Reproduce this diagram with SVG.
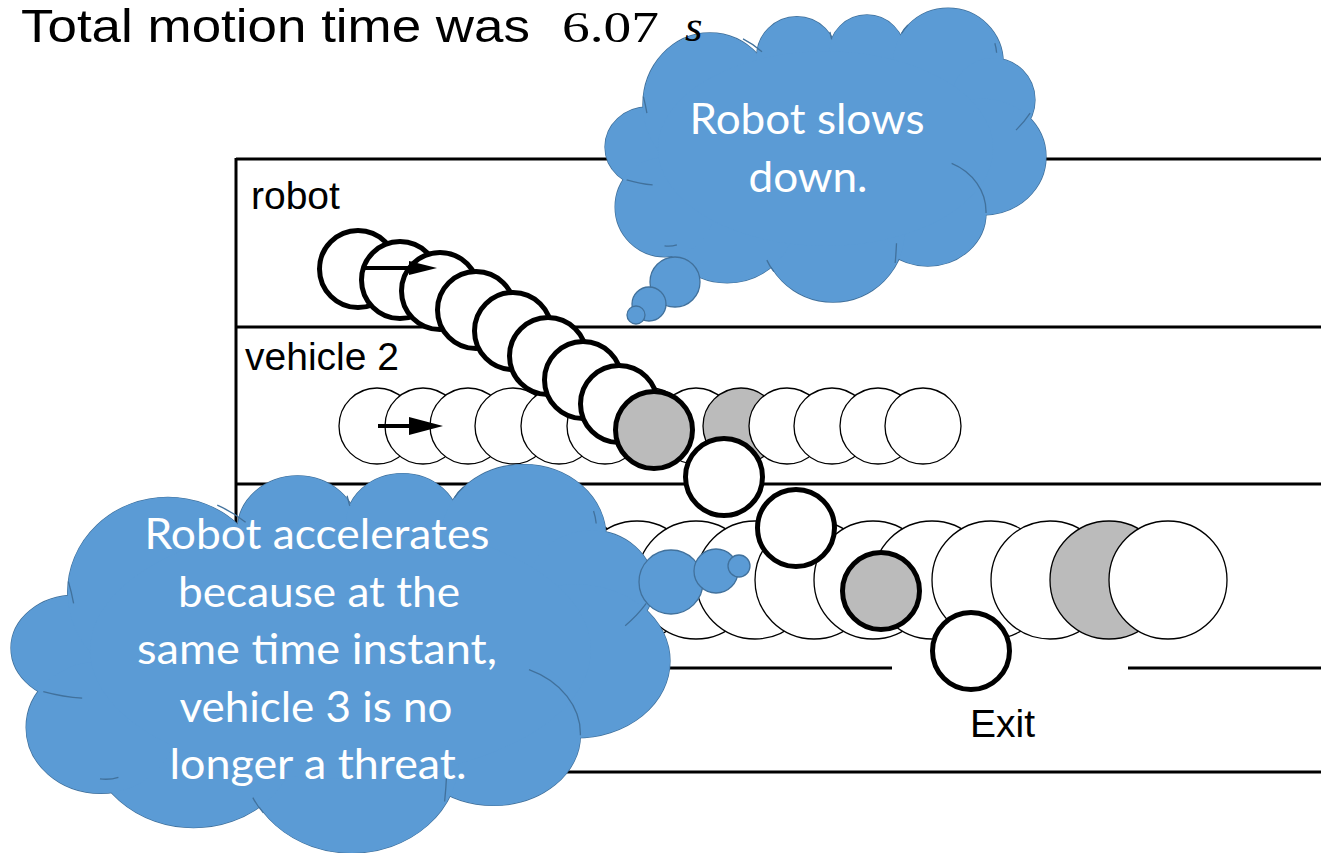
<svg xmlns="http://www.w3.org/2000/svg" xmlns:xlink="http://www.w3.org/1999/xlink" width="1321" height="853" viewBox="0 0 1321 853">
<style>
.frame{stroke:#000;stroke-width:3;fill:none}
.rb{fill:#fff;stroke:#000;stroke-width:5}
.rbg{fill:#bbb;stroke:#000;stroke-width:5}
.vh{fill:#fff;stroke:#000;stroke-width:1.3}
.vhg{fill:#bbb;stroke:#000;stroke-width:1.3}
.lbl{font-family:"Liberation Sans",Arial,sans-serif;font-size:39px;fill:#000}
.ct{font-family:Lato,"Open Sans",sans-serif;font-size:42px;fill:#fff;text-anchor:middle}
.cs ellipse{fill:#5B9BD5;stroke:#41719C;stroke-width:1.3;vector-effect:non-scaling-stroke}
.cf ellipse{fill:#5B9BD5;stroke:none}
.tk{fill:none;stroke:#41719C;stroke-width:1.3;vector-effect:non-scaling-stroke}
.bub{fill:#5B9BD5;stroke:#41719C;stroke-width:1.3}
</style>
<defs>
<g id="cloudShape">
<g class="cs">
<ellipse cx="97.5" cy="474.6" rx="97.5" ry="135.6"/>
<ellipse cx="238" cy="332" rx="152" ry="244"/>
<ellipse cx="435" cy="169" rx="91" ry="136"/>
<ellipse cx="594" cy="156" rx="86" ry="129"/>
<ellipse cx="778" cy="190" rx="125" ry="186"/>
<ellipse cx="880" cy="315" rx="95" ry="142"/>
<ellipse cx="857" cy="508" rx="143" ry="197"/>
<ellipse cx="732" cy="698" rx="132" ry="180"/>
<ellipse cx="517" cy="756" rx="163" ry="244"/>
<ellipse cx="277" cy="698" rx="159" ry="237"/>
<ellipse cx="136" cy="678" rx="113" ry="169"/>
</g>
<g class="cf">
<ellipse cx="97.5" cy="474.6" rx="97.5" ry="135.6"/>
<ellipse cx="238" cy="332" rx="152" ry="244"/>
<ellipse cx="435" cy="169" rx="91" ry="136"/>
<ellipse cx="594" cy="156" rx="86" ry="129"/>
<ellipse cx="778" cy="190" rx="125" ry="186"/>
<ellipse cx="880" cy="315" rx="95" ry="142"/>
<ellipse cx="857" cy="508" rx="143" ry="197"/>
<ellipse cx="732" cy="698" rx="132" ry="180"/>
<ellipse cx="517" cy="756" rx="163" ry="244"/>
<ellipse cx="277" cy="698" rx="159" ry="237"/>
<ellipse cx="136" cy="678" rx="113" ry="169"/>
<ellipse cx="500" cy="480" rx="380" ry="330"/>
</g>
</g>
<path id="cloudTicks" class="tk" d="M87 304Q92 332 95 360M313 108Q337 126 356 152M510 84Q512 97 514 110M673 89Q678 74 687 61M884 123Q887 138 888 155M964 360Q950 392 932 417M786 530A132 180 0 0 1 864 698M661 801Q660 835 658 868M367 858Q373 878 383 897M135 810Q150 813 163 806M49 586Q80 600 108 603"/>
</defs>

<g id="frame" class="frame">
<line x1="236" y1="159" x2="1321" y2="159"/>
<line x1="236" y1="158" x2="236" y2="772"/>
<line x1="236" y1="327" x2="1321" y2="327"/>
<line x1="236" y1="484" x2="1321" y2="484"/>
<line x1="236" y1="668" x2="892" y2="668"/>
<line x1="1128" y1="668" x2="1321" y2="668"/>
<line x1="236" y1="772" x2="1321" y2="772"/>
</g>

<g id="labels">
<text class="lbl" x="251" y="209">robot</text>
<text class="lbl" x="245" y="370">vehicle 2</text>
<text class="lbl" x="970" y="737">Exit</text>
</g>

<g id="vehicle2">
<circle class="vh" cx="377" cy="426" r="38"/>
<circle class="vh" cx="423" cy="426" r="38"/>
<circle class="vh" cx="468" cy="426" r="38"/>
<circle class="vh" cx="513" cy="426" r="38"/>
<circle class="vh" cx="559" cy="426" r="38"/>
<circle class="vh" cx="605" cy="426" r="38"/>
<circle class="vh" cx="650" cy="426" r="38"/>
<circle class="vh" cx="696" cy="426" r="38"/>
<circle class="vhg" cx="741" cy="426" r="38"/>
<circle class="vh" cx="787" cy="426" r="38"/>
<circle class="vh" cx="832" cy="426" r="38"/>
<circle class="vh" cx="878" cy="426" r="38"/>
<circle class="vh" cx="923" cy="426" r="38"/>
<line x1="378" y1="426" x2="414" y2="426" stroke="#000" stroke-width="4"/>
<polygon points="409,417 443,426 409,435" fill="#000"/>
</g>

<g id="vehicle3">
<circle class="vh" cx="342" cy="580" r="59"/>
<circle class="vh" cx="401" cy="580" r="59"/>
<circle class="vh" cx="460" cy="580" r="59"/>
<circle class="vh" cx="519" cy="580" r="59"/>
<circle class="vh" cx="578" cy="580" r="59"/>
<circle class="vh" cx="637" cy="580" r="59"/>
<circle class="vh" cx="696" cy="580" r="59"/>
<circle class="vh" cx="755" cy="580" r="59"/>
<circle class="vh" cx="814" cy="580" r="59"/>
<circle class="vh" cx="873" cy="580" r="59"/>
<circle class="vh" cx="932" cy="580" r="59"/>
<circle class="vh" cx="991" cy="580" r="59"/>
<circle class="vh" cx="1050" cy="580" r="59"/>
<circle class="vhg" cx="1109" cy="580" r="59"/>
<circle class="vh" cx="1168" cy="580" r="59"/>
</g>

<g id="robot">
<circle class="rb" cx="358" cy="269" r="38.5"/>
<circle class="rb" cx="400" cy="280" r="38.5"/>
<circle class="rb" cx="440" cy="291" r="38.5"/>
<circle class="rb" cx="476" cy="310" r="38.5"/>
<circle class="rb" cx="513" cy="331" r="38.5"/>
<circle class="rb" cx="548" cy="356" r="38.5"/>
<circle class="rb" cx="583" cy="380" r="38.5"/>
<circle class="rb" cx="619" cy="404" r="38.5"/>
<circle class="rbg" cx="654" cy="430" r="38.5"/>
<circle class="rb" cx="724" cy="477" r="38.5"/>
<circle class="rb" cx="796" cy="528" r="38.5"/>
<circle class="rbg" cx="881" cy="591" r="38.5"/>
<circle class="rb" cx="971" cy="651" r="38.5"/>
<line x1="362" y1="268" x2="414" y2="268" stroke="#000" stroke-width="4"/>
<polygon points="409,261 437,268 409,275" fill="#000"/>
</g>

<g id="cloud-slows">
<use xlink:href="#cloudShape" transform="translate(605,7) scale(0.441,0.295)"/>
<circle class="bub" cx="675" cy="282" r="25"/>
<circle class="bub" cx="649" cy="304" r="17"/>
<circle class="bub" cx="636" cy="315" r="9"/>
<use xlink:href="#cloudTicks" transform="translate(605,7) scale(0.441,0.295)"/>
<text class="ct" x="807" y="134" textLength="235" lengthAdjust="spacingAndGlyphs">Robot slows</text>
<text class="ct" x="808" y="192" textLength="119" lengthAdjust="spacingAndGlyphs">down.</text>
</g>

<g id="cloud-accelerates">
<use xlink:href="#cloudShape" transform="translate(11,463) scale(0.659,0.39)"/>
<circle class="bub" cx="671" cy="582" r="32"/>
<circle class="bub" cx="716" cy="571" r="22"/>
<circle class="bub" cx="739" cy="566" r="11"/>
<use xlink:href="#cloudTicks" transform="translate(11,463) scale(0.659,0.39)"/>
<text class="ct" x="317" y="549" textLength="345" lengthAdjust="spacingAndGlyphs">Robot accelerates</text>
<text class="ct" x="319" y="607" textLength="282" lengthAdjust="spacingAndGlyphs">because at the</text>
<text class="ct" x="317" y="664" textLength="360" lengthAdjust="spacingAndGlyphs">same time instant,</text>
<text class="ct" x="316" y="722" textLength="273" lengthAdjust="spacingAndGlyphs">vehicle 3 is no</text>
<text class="ct" x="318" y="779" textLength="297" lengthAdjust="spacingAndGlyphs">longer a threat.</text>
</g>

<g id="title">
<text x="21" y="42" font-family="Liberation Sans, Arial, sans-serif" font-size="46" textLength="509" lengthAdjust="spacingAndGlyphs">Total motion time was</text>
<text x="562" y="42" font-family="Liberation Serif, Times New Roman, serif" font-size="45" textLength="97" lengthAdjust="spacingAndGlyphs">6.07</text>
<text x="685" y="41" font-family="Liberation Serif, Times New Roman, serif" font-size="45" font-style="italic">s</text>
</g>
</svg>
